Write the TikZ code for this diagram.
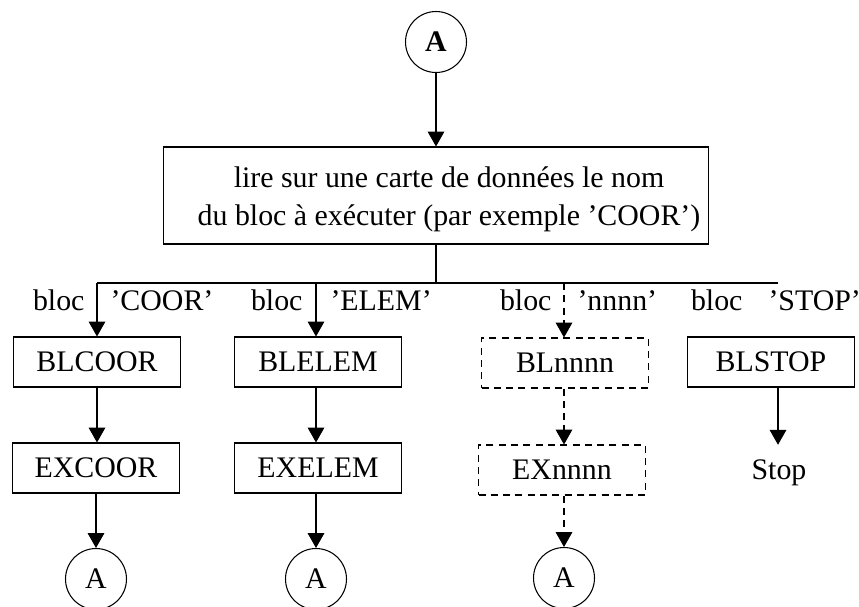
\documentclass[tikz,border=0pt]{standalone}
\usepackage{fontspec}
\setmainfont{Liberation Serif}
\usetikzlibrary{positioning,arrows.meta}

\begin{document}
\begin{tikzpicture}[x=0.02cm,y=-0.02cm,line width=0.6pt,
  every node/.style={font=\fontsize{17}{21.6}\selectfont},
  bloc/.style={rectangle,draw,minimum height=1cm,minimum width=3.34cm,inner sep=0pt},
  pointille/.style={dash pattern=on 4pt off 3pt},
  renvoi/.style={circle,draw,minimum size=1.22cm,inner sep=0pt},
  etiq/.style={inner sep=0pt},
  fl/.style={-{Triangle[length=8.5pt,width=9.5pt]}}]
  \useasboundingbox (0,0) rectangle (859,606);

  % debut
  \node[renvoi,font=\fontsize{17}{20}\selectfont\bfseries] (depart) at (436,42) {A};
  \node[rectangle,draw,minimum width=10.92cm,minimum height=1.94cm] (lire) at (436,195.5) {};
  \node[align=center] (lire texte) at (449,199) {lire sur une carte de données le nom\\du bloc à exécuter (par exemple 'COOR')};
  \draw[fl] (depart) -- (lire);

  % aiguillage
  \coordinate (bus) at (436,283);
  \coordinate (b1) at (97,283);
  \coordinate (b2) at (316,283);
  \coordinate (b3) at (564,283);
  \coordinate (b4) at (778,283);
  \draw (lire) -- (bus);
  \draw (b1) -- (b4);

  % les blocs
  \node[bloc] (blcoor) at (97,362) {BLCOOR};
  \node[bloc] (excoor) at (96,468) {EXCOOR};
  \node[renvoi] (a1) at (96,579) {A};
  \node[bloc] (blelem) at (318,362) {BLELEM};
  \node[bloc] (exelem) at (318,468) {EXELEM};
  \node[renvoi] (a2) at (316,579) {A};
  \node[bloc,pointille] (blnnnn) at (565,363) {BLnnnn};
  \node[bloc,pointille] (exnnnn) at (562,470) {EXnnnn};
  \node[renvoi] (a3) at (564,578) {A};
  \node[bloc] (blstop) at (771,362) {BLSTOP};
  \node (stop) at (779,473) {Stop};

  % etiquettes
  \node[etiq,anchor=base east] (bloc1) at (85,310) {bloc};
  \node[etiq,anchor=base west] (coor) at (110,310) {'COOR'};
  \node[etiq,anchor=base east] (bloc2) at (303,310) {bloc};
  \node[etiq,anchor=base west] (elem) at (330,310) {'ELEM'};
  \node[etiq,anchor=base east] (bloc3) at (552,310) {bloc};
  \node[etiq,anchor=base west] (nnnn) at (577,310) {'nnnn'};
  \node[etiq,anchor=base east] (bloc4) at (743,310) {bloc};
  \node[etiq,anchor=base west] (stp) at (768,310) {'STOP'};

  % fleches
  \draw[fl] (b1) -- (b1 |- blcoor.north);
  \draw[fl] (blcoor.south -| b1) -- (b1 |- excoor.north);
  \draw[fl] (excoor) -- (a1);
  \draw[fl] (b2) -- (b2 |- blelem.north);
  \draw[fl] (blelem.south -| b2) -- (b2 |- exelem.north);
  \draw[fl] (exelem.south -| a2) -- (a2);
  \draw[fl,pointille] (b3) -- (b3 |- blnnnn.north);
  \draw[fl,pointille] (blnnnn.south -| b3) -- (b3 |- exnnnn.north);
  \draw[fl,pointille] (exnnnn.south -| a3) -- (a3);
  \draw[fl,shorten >=5pt] (blstop.south -| b4) -- (b4 |- stop.north);
\end{tikzpicture}
\end{document}
